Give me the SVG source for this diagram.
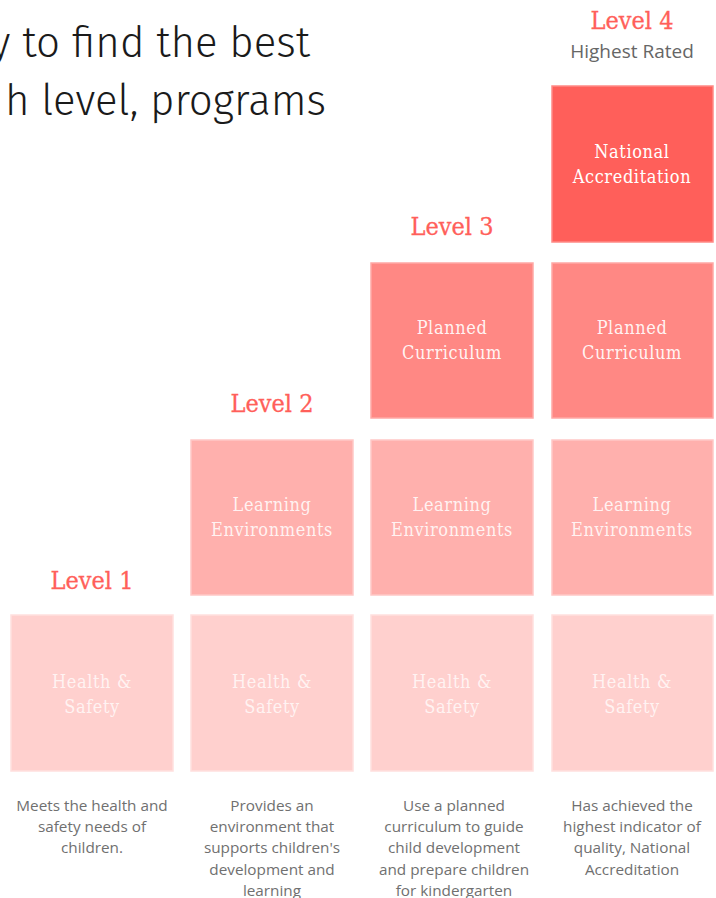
<svg xmlns="http://www.w3.org/2000/svg" width="716" height="898" viewBox="0 0 716 898">
<style>
.title{font-family:"Fira Sans","Open Sans",sans-serif;font-weight:300;font-size:42px;fill:#1a1a1a}
.lvl{font-family:"DejaVu Serif Condensed","DejaVu Serif",serif;font-size:25px;fill:#ff5f5a;text-anchor:middle;stroke:#ff5f5a;stroke-width:0.3}
.sub{font-family:"Open Sans",sans-serif;font-size:19px;fill:#666;text-anchor:middle}
.box{stroke-width:1.5}
.bt{font-family:"DejaVu Serif Condensed","DejaVu Serif",serif;font-size:18px;letter-spacing:0.6px;text-anchor:middle}
.desc{font-family:"Open Sans",sans-serif;font-size:15.3px;fill:#707070;text-anchor:middle}
.hs{fill:#ffd0ce;stroke:#ffe0de}
.le{fill:#ffb0ad;stroke:#ffc8c6}
.pc{fill:#ff8884;stroke:#ffa8a5}
.na{fill:#ff5f5a;stroke:#ff8a86}
.hst{fill:#fff;fill-opacity:0.75}
.let{fill:#fff;fill-opacity:0.85}
.pct{fill:#fff;fill-opacity:0.92}
.nat{fill:#fff}
</style>
<g id="title">
<text class="title" x="310" y="57" text-anchor="end">y to find the best</text>
<text class="title" x="326" y="115" text-anchor="end">h level, programs</text>
</g>
<g id="labels">
<text class="lvl" x="92" y="589">Level 1</text>
<text class="lvl" x="272" y="412">Level 2</text>
<text class="lvl" x="452" y="235">Level 3</text>
<text class="lvl" x="632" y="29">Level 4</text>
<text class="sub" x="632" y="58">Highest Rated</text>
</g>
<g id="col1">
<g id="c1-hs"><rect class="box hs" x="11" y="615" width="162" height="156"/><text class="bt hst" x="92" y="688">Health &amp;</text><text class="bt hst" x="92" y="713">Safety</text></g>
</g>
<g id="col2">
<g id="c2-hs"><rect class="box hs" x="191" y="615" width="162" height="156"/><text class="bt hst" x="272" y="688">Health &amp;</text><text class="bt hst" x="272" y="713">Safety</text></g>
<g id="c2-le"><rect class="box le" x="191" y="440" width="162" height="155"/><text class="bt let" x="272" y="511">Learning</text><text class="bt let" x="272" y="536">Environments</text></g>
</g>
<g id="col3">
<g id="c3-hs"><rect class="box hs" x="371" y="615" width="162" height="156"/><text class="bt hst" x="452" y="688">Health &amp;</text><text class="bt hst" x="452" y="713">Safety</text></g>
<g id="c3-le"><rect class="box le" x="371" y="440" width="162" height="155"/><text class="bt let" x="452" y="511">Learning</text><text class="bt let" x="452" y="536">Environments</text></g>
<g id="c3-pc"><rect class="box pc" x="371" y="263" width="162" height="155"/><text class="bt pct" x="452" y="334">Planned</text><text class="bt pct" x="452" y="359">Curriculum</text></g>
</g>
<g id="col4">
<g id="c4-hs"><rect class="box hs" x="552" y="615" width="161" height="156"/><text class="bt hst" x="632" y="688">Health &amp;</text><text class="bt hst" x="632" y="713">Safety</text></g>
<g id="c4-le"><rect class="box le" x="552" y="440" width="161" height="155"/><text class="bt let" x="632" y="511">Learning</text><text class="bt let" x="632" y="536">Environments</text></g>
<g id="c4-pc"><rect class="box pc" x="552" y="263" width="161" height="155"/><text class="bt pct" x="632" y="334">Planned</text><text class="bt pct" x="632" y="359">Curriculum</text></g>
<g id="c4-na"><rect class="box na" x="552" y="86" width="161" height="156"/><text class="bt nat" x="632" y="158">National</text><text class="bt nat" x="632" y="183">Accreditation</text></g>
</g>
<g id="connectors"/>
<g id="descriptions">
<text class="desc" x="92" y="811">Meets the health and</text>
<text class="desc" x="92" y="832">safety needs of</text>
<text class="desc" x="92" y="853">children.</text>
<text class="desc" x="272" y="811">Provides an</text>
<text class="desc" x="272" y="832">environment that</text>
<text class="desc" x="272" y="853">supports children's</text>
<text class="desc" x="272" y="875">development and</text>
<text class="desc" x="272" y="896">learning</text>
<text class="desc" x="454" y="811">Use a planned</text>
<text class="desc" x="454" y="832">curriculum to guide</text>
<text class="desc" x="454" y="853">child development</text>
<text class="desc" x="454" y="875">and prepare children</text>
<text class="desc" x="454" y="896">for kindergarten</text>
<text class="desc" x="632" y="811">Has achieved the</text>
<text class="desc" x="632" y="832">highest indicator of</text>
<text class="desc" x="632" y="853">quality, National</text>
<text class="desc" x="632" y="875">Accreditation</text>
</g>
</svg>
